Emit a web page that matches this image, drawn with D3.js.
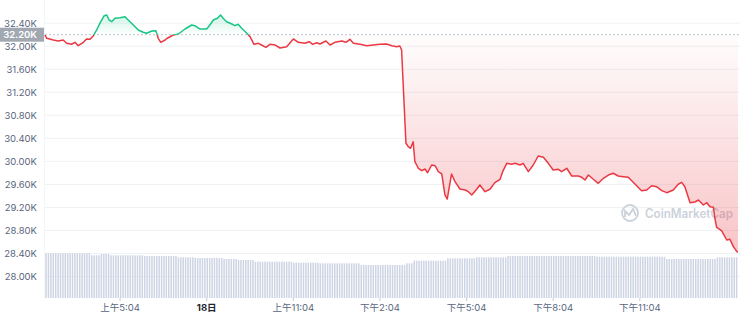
<!DOCTYPE html>
<html>
<head>
<meta charset="utf-8">
<script src="https://cdn.jsdelivr.net/npm/d3@7"></script>
<style>
body { margin: 0; background: #fff; }
text { font-family: Inter, "Noto Sans CJK SC", sans-serif; }
</style>
</head>
<body>
<div id="chart"></div>
<script>
// hours since chart start, and price in USD
var hrs = [0,0.06,0.29,0.46,0.63,0.75,0.92,1.04,1.15,1.33,
1.44,1.56,1.67,1.79,1.90,2.05,2.14,2.22,2.31,2.42,
2.60,2.77,2.88,3.06,3.23,3.40,3.52,3.70,3.84,3.92,
4.01,4.16,4.22,4.44,4.62,4.85,5.08,5.19,5.37,5.60,
5.71,5.83,5.97,6.08,6.17,6.29,6.47,6.58,6.69,6.81,
6.99,7.10,7.24,7.39,7.50,7.65,7.79,7.97,8.14,8.37,
8.60,8.77,9.00,9.15,9.27,9.41,9.52,9.73,9.87,10.04,
10.28,10.42,10.56,10.68,10.91,11.14,11.37,11.60,11.83,12.01,
12.18,12.29,12.35,12.43,12.50,12.58,12.66,12.75,12.81,12.93,
13.05,13.16,13.25,13.39,13.51,13.62,13.74,13.85,13.93,14.08,
14.20,14.37,14.55,14.66,14.78,14.95,15.06,15.24,15.41,15.58,
15.76,15.85,15.99,16.16,16.28,16.45,16.56,16.74,16.91,17.08,
17.26,17.43,17.60,17.78,17.89,18.07,18.24,18.47,18.59,18.70,
18.82,18.99,19.16,19.34,19.51,19.68,19.85,20.03,20.20,20.43,
20.66,20.84,21.01,21.18,21.36,21.53,21.76,21.93,22.05,22.16,
22.34,22.51,22.63,22.80,22.92,23.03,23.15,23.20,23.26,23.43,
23.61,23.72,23.84,23.96,24.0]
var prices = [32195,32138,32108,32091,32108,32051,32034,32068,32009,32068,
32126,32120,32178,32282,32398,32530,32542,32456,32426,32485,
32495,32513,32456,32369,32282,32242,32225,32265,32270,32138,
32068,32108,32134,32195,32212,32299,32369,32357,32299,32299,
32369,32456,32485,32542,32485,32426,32386,32357,32381,32311,
32225,32166,32033,32051,32021,31981,32033,32021,31969,31992,
32126,32068,32051,32079,32033,32061,32039,32091,32021,32068,
32091,32068,32120,32051,32033,32009,32021,32033,32039,32009,
31992,32004,31934,31066,30314,30255,30227,30342,29994,29880,
29838,29867,29803,29937,29925,29821,29781,29416,29346,29781,
29647,29520,29503,29473,29416,29515,29590,29473,29515,29630,
29689,29821,29966,29949,29966,29937,29966,29821,29937,30093,
30071,29966,29850,29862,29821,29880,29746,29746,29723,29676,
29763,29689,29619,29706,29763,29793,29746,29734,29723,29607,
29491,29503,29577,29560,29491,29456,29503,29602,29636,29560,
29282,29294,29329,29242,29282,29213,29202,29011,28855,28796,
28634,28646,28518,28431,28426]
var basePrice = 32200
var baseLabel = "32.20K"

// volume per 5 minute bar
var volumes = [
44.7,44.7,44.7,44.7,44.7,44.7,44.7,44.7,44.7,44.7,
44.7,44.7,44.7,44.7,44.7,44.7,44.7,44.7,44.7,
42.7,42.7,42.7,42.7,
44,44,44,44,
42.7,42.7,42.7,42.7,42.7,42.7,42.7,42.7,42.7,42.7,42.7,42.7,42.7,42.7,
42,42,42,42,42,42,42,42,42,42,42,42,42,42,
40.7,40.7,40.7,40.7,40.7,40.7,40.7,
40,40,40,40,40,40,40,40,40,40,40,40,
39,39,39,39,39,39,
38,38,38,38,38,38,38,
36.3,36.3,36.3,36.3,36.3,36.3,36.3,36.3,36.3,36.3,36.3,36.3,36.3,36.3,36.3,36.3,
35.3,35.3,35.3,35.3,35.3,35.3,35.3,35.3,35.3,35.3,35.3,
34.7,34.7,34.7,34.7,34.7,34.7,34.7,34.7,34.7,34.7,34.7,34.7,34.7,34.7,34.7,34.7,34.7,
33,33,33,33,33,33,33,33,33,33,33,33,33,33,33,33,33,33,33,
34.7,34.7,34.7,
37.3,37.3,37.3,37.3,37.3,37.3,37.3,37.3,37.3,37.3,37.3,37.3,37.3,37.3,
39.7,39.7,39.7,39.7,39.7,39.7,39.7,39.7,39.7,39.7,39.7,39.7,
40.7,40.7,40.7,40.7,40.7,40.7,40.7,40.7,40.7,40.7,40.7,40.7,40.7,
42,42,42,42,42,42,42,42,42,42,42,42,42,42,42,42,42,42,42,42,
42,42,42,42,42,42,42,42,42,42,42,42,42,42,42,42,42,
41.3,41.3,41.3,41.3,41.3,41.3,41.3,41.3,41.3,41.3,41.3,41.3,41.3,41.3,41.3,
41.3,41.3,41.3,41.3,41.3,41.3,41.3,41.3,41.3,41.3,41.3,41.3,41.3,41.3,
39,39,39,39,39,39,39,39,39,39,39,39,39,39,39,39,39,39,39,39,39,
40.7,40.7,40.7,40.7,40.7,40.7,40.7,40.7,40.7]

var yTicks = [28000,28400,28800,29200,29600,30000,30400,30800,31200,31600,32000,32400]
var xTickHours = [2.6,5.6,8.6,11.6,14.6,17.6,20.6]
var xTickLabels = ["上午5:04","18日","上午11:04","下午2:04","下午5:04","下午8:04","下午11:04"]

var width = 740, height = 319
var left = 45, right = 738
var red = "#ea3943", green = "#16c784"

var svg = d3.select("#chart").append("svg")
.attr("width", width)
.attr("height", height)

var x = d3.scaleLinear().domain([0, 24]).range([left, right])
var y = d3.scaleLinear().domain([28000, 32400]).range([276.5, 23.2])
var yVol = d3.scaleLinear().domain([0, 60]).range([298, 238])
var baseY = y(basePrice)

// gradients + clips
var defs = svg.append("defs")
var rg = defs.append("linearGradient").attr("id", "redGrad")
.attr("gradientUnits", "userSpaceOnUse")
.attr("x1", 0).attr("x2", 0).attr("y1", baseY).attr("y2", y(28400))
rg.append("stop").attr("offset", "0%").attr("stop-color", red).attr("stop-opacity", 0.01)
rg.append("stop").attr("offset", "100%").attr("stop-color", red).attr("stop-opacity", 0.3)
var gg = defs.append("linearGradient").attr("id", "greenGrad")
.attr("gradientUnits", "userSpaceOnUse")
.attr("x1", 0).attr("x2", 0).attr("y1", y(32560)).attr("y2", baseY)
gg.append("stop").attr("offset", "0%").attr("stop-color", green).attr("stop-opacity", 0.2)
gg.append("stop").attr("offset", "100%").attr("stop-color", green).attr("stop-opacity", 0.01)
defs.append("clipPath").attr("id", "above").append("rect")
.attr("x", 0).attr("y", 0).attr("width", width).attr("height", baseY)
defs.append("clipPath").attr("id", "below").append("rect")
.attr("x", 0).attr("y", baseY).attr("width", width).attr("height", height - baseY)

// grid lines
svg.append("g").selectAll("line")
.data(yTicks)
.enter().append("line")
.attr("x1", left).attr("x2", width)
.attr("y1", function(d) { return y(d) }).attr("y2", function(d) { return y(d) })
.attr("stroke", "#eff2f5")
.attr("stroke-width", 1)
svg.append("line")
.attr("x1", left - 0.5).attr("x2", left - 0.5).attr("y1", 0).attr("y2", 298)
.attr("stroke", "#f3f5f8")

// volume bars
var step = 24 / volumes.length
svg.append("g").selectAll("rect")
.data(volumes)
.enter().append("rect")
.attr("x", function(d, i) { return x(i * step) + 0.3 })
.attr("width", (x(step) - x(0)) * 0.62)
.attr("y", function(d) { return yVol(d) })
.attr("height", function(d) { return yVol(0) - yVol(d) })
.attr("fill", "#cdd4e3")

// watermark
var wm = svg.append("g").attr("fill", "none").attr("stroke", "#ccd2db").attr("stroke-width", 1.8)
wm.append("circle").attr("cx", 630).attr("cy", 213).attr("r", 8)
wm.append("path").attr("d", "M625,217 L625,211 L629,215 L633,209 L636,216")
svg.append("text")
.attr("x", 645).attr("y", 217.5)
.attr("font-size", 12.5).attr("font-weight", 600)
.attr("textLength", 88).attr("lengthAdjust", "spacingAndGlyphs")
.attr("fill", "#ccd2db")
.text("CoinMarketCap")

// price area and line
var pts = hrs.map(function(h, i) { return {h: h, v: prices[i]} })
var area = d3.area()
.x(function(d) { return x(d.h) })
.y0(baseY)
.y1(function(d) { return y(d.v) })
var line = d3.line()
.x(function(d) { return x(d.h) })
.y(function(d) { return y(d.v) })

svg.append("path").datum(pts).attr("clip-path", "url(#below)")
.attr("fill", "url(#redGrad)").attr("d", area)
svg.append("path").datum(pts).attr("clip-path", "url(#above)")
.attr("fill", "url(#greenGrad)").attr("d", area)

// dotted reference line
svg.append("line")
.attr("x1", left).attr("x2", width).attr("y1", baseY).attr("y2", baseY)
.attr("stroke", "#b9c0cb").attr("stroke-width", 1).attr("stroke-dasharray", "2,2")

svg.append("path").datum(pts).attr("clip-path", "url(#below)")
.attr("fill", "none").attr("stroke", red).attr("stroke-width", 1.5)
.attr("stroke-linejoin", "round").attr("d", line)
svg.append("path").datum(pts).attr("clip-path", "url(#above)")
.attr("fill", "none").attr("stroke", green).attr("stroke-width", 1.5)
.attr("stroke-linejoin", "round").attr("d", line)

// y axis labels
svg.append("g").selectAll("text")
.data(yTicks)
.enter().append("text")
.attr("x", 37)
.attr("y", function(d) { return y(d) })
.attr("dy", "0.35em")
.attr("text-anchor", "end")
.attr("font-size", 9.5)
.attr("fill", "#58667e")
.text(function(d) { return (d / 1000).toFixed(2) + "K" })

// base price tag
svg.append("rect")
.attr("x", 0).attr("y", baseY - 7).attr("width", 44).attr("height", 14)
.attr("fill", "#a2a8b2")
svg.append("text")
.attr("x", 37).attr("y", baseY).attr("dy", "0.35em")
.attr("text-anchor", "end")
.attr("font-size", 9.5).attr("font-weight", 600)
.attr("fill", "#fff")
.text(baseLabel)

// x axis
var xg = svg.append("g")
xg.selectAll("line")
.data(xTickHours)
.enter().append("line")
.attr("x1", function(d) { return x(d) }).attr("x2", function(d) { return x(d) })
.attr("y1", 298).attr("y2", 301)
.attr("stroke", "#c5cbd5")
xg.selectAll("text")
.data(xTickHours)
.enter().append("text")
.attr("x", function(d) { return x(d) })
.attr("y", 308)
.attr("dy", "0.35em")
.attr("text-anchor", "middle")
.attr("font-size", 9.5)
.attr("font-weight", function(d, i) { return xTickLabels[i] == "18日" ? 700 : 400 })
.attr("fill", function(d, i) { return xTickLabels[i] == "18日" ? "#222531" : "#58667e" })
.text(function(d, i) { return xTickLabels[i] })
</script>
</body>
</html>
